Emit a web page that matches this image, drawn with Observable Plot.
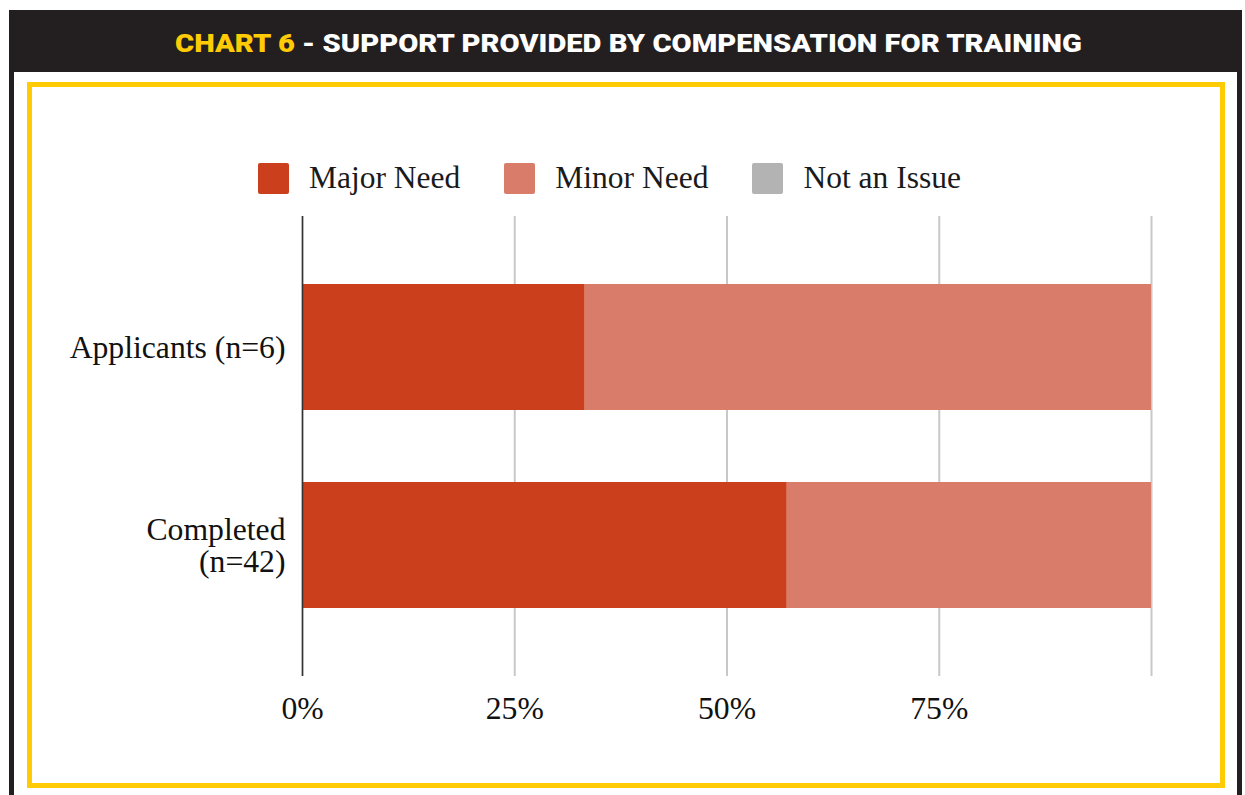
<!DOCTYPE html>
<html>
<head>
<meta charset="utf-8">
<script src="https://cdn.jsdelivr.net/npm/d3@7"></script>
<script src="https://cdn.jsdelivr.net/npm/@observablehq/plot@0.6"></script>
<style>
  html, body { margin: 0; padding: 0; background: #fff; width: 1245px; height: 795px; overflow: hidden; }
  #frame { position: absolute; left: 9px; top: 10px; width: 1233px; height: 800px; box-sizing: border-box;
           border-left: 5px solid #231F20; border-right: 5px solid #231F20; }
  #header { position: absolute; left: 9px; top: 10px; width: 1233px; height: 62px; background: #231F20; }
  #header svg { position: absolute; left: -9px; top: -10px; }
  #ybox { position: absolute; left: 27px; top: 82px; width: 1198px; height: 706px; box-sizing: border-box;
          border: 5px solid #FFCB05; }
  #legend { position: absolute; left: 258px; top: 160px; display: flex; align-items: center;
            font-family: "Liberation Serif", "Times New Roman", serif; font-size: 31.5px; color: #1a1a1a; }
  .item { display: flex; align-items: center; margin-right: 44px; }
  .sw { width: 31px; height: 31px; border-radius: 2px; margin-right: 20px; }
  #chart { position: absolute; left: 0; top: 200px; }
</style>
</head>
<body>
<div id="frame"></div>
<div id="header">
  <svg width="1245" height="72">
    <text x="175" y="52" textLength="907" lengthAdjust="spacingAndGlyphs"
          font-family="Roboto, 'DejaVu Sans', sans-serif" font-weight="900" font-size="26.5" fill="#fff"><tspan fill="#FFCB05">CHART 6</tspan> - SUPPORT PROVIDED BY COMPENSATION FOR TRAINING</text>
  </svg>
</div>
<div id="ybox"></div>
<div id="legend"></div>
<div id="chart"></div>
<script>
// ---- data ----
const categories = ["Applicants (n=6)", "Completed\n(n=42)"];
const series = ["Major Need", "Minor Need", "Not an Issue"];
const colors = ["#CC3F1C", "#D97C6A", "#B3B3B3"];
const majorNeed = [33.3, 57.1];
const minorNeed = [66.7, 42.9];
const notAnIssue = [0, 0];
const xTickValues = [0, 25, 50, 75];
const gridValues = [0, 25, 50, 75, 100];

const valuesBySeries = [majorNeed, minorNeed, notAnIssue];
const rows = [];
categories.forEach((c, i) => {
  series.forEach((s, j) => rows.push({category: c, series: s, value: valuesBySeries[j][i]}));
});

// ---- legend ----
const legend = document.getElementById("legend");
series.forEach((s, j) => {
  const item = document.createElement("div");
  item.className = "item";
  const sw = document.createElement("div");
  sw.className = "sw";
  sw.style.background = colors[j];
  const label = document.createElement("span");
  label.textContent = s;
  item.appendChild(sw);
  item.appendChild(label);
  legend.appendChild(item);
});

// ---- chart ----
const chart = Plot.plot({
  width: 1245,
  height: 540,
  marginLeft: 302,
  marginRight: 94,
  marginTop: 16,
  marginBottom: 64,
  style: {fontFamily: "'Liberation Serif', 'Times New Roman', serif", fontSize: "31.7px", color: "#111", background: "transparent"},
  x: {domain: [0, 100]},
  y: {domain: categories, paddingInner: 0.364, paddingOuter: 0.343},
  color: {domain: series, range: colors},
  marks: [
    Plot.gridX(gridValues, {stroke: "#c8c8c8", strokeOpacity: 1, strokeWidth: 2}),
    Plot.barX(rows, Plot.stackX({
      x: "value", y: "category", fill: "series",
      order: series, inset: 0
    })),
    Plot.ruleX([0], {stroke: "#333", strokeWidth: 1.5}),
    Plot.axisX(xTickValues, {tickSize: 0, tickPadding: 20, tickFormat: d => d + "%", label: null, fontSize: 31.7}),
    Plot.axisY({tickSize: 0, tickPadding: 17, label: null, fontSize: 31.7, lineHeight: 1.01})
  ]
});
document.getElementById("chart").appendChild(chart);
</script>
</body>
</html>
